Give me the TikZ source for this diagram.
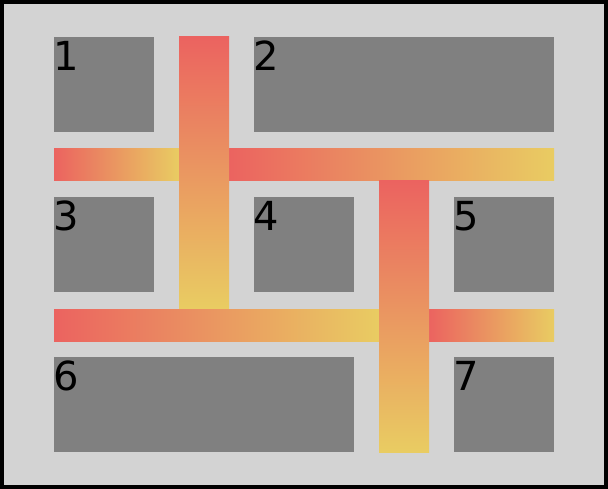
\documentclass[tikz,border=0pt]{standalone}
\usepackage{fontspec}
\setmainfont{DejaVu Sans}
\definecolor{barred}{RGB}{235,99,96}
\definecolor{baryellow}{RGB}{233,204,98}
\definecolor{bggray}{RGB}{211,211,211}
\definecolor{boxgray}{RGB}{128,128,128}
\begin{document}
\begin{tikzpicture}[x=1pt,y=-1pt,
  cell/.style={fill=boxgray},
  hbar/.style={left color=barred,right color=baryellow},
  vbar/.style={top color=barred,bottom color=baryellow},
  lbl/.style={anchor=base west,inner sep=0pt,font=\fontsize{40}{48}\selectfont,text=black}]
\useasboundingbox (0,0) rectangle (608,489);
\fill[black] (0,0) rectangle (608,489);
\fill[bggray] (4,4) rectangle (604,485);
% boxes
\fill[cell] (54,37) rectangle (154,132);
\fill[cell] (254,37) rectangle (554,132);
\fill[cell] (54,197) rectangle (154,292);
\fill[cell] (254,197) rectangle (354,292);
\fill[cell] (454,197) rectangle (554,292);
\fill[cell] (54,357) rectangle (354,452);
\fill[cell] (454,357) rectangle (554,452);
% bars
\shade[hbar] (54,149) rectangle (179,181);
\shade[hbar] (229,149) rectangle (554,181);
\shade[vbar] (179,37) rectangle (229,308);
\shade[hbar] (54,309) rectangle (379,341);
\shade[hbar] (429,309) rectangle (554,341);
\shade[vbar] (379,181) rectangle (429,452);
% labels
\node[lbl] (l1) at (53,70.5) {1};
\node[lbl] (l2) at (253,70.5) {2};
\node[lbl] (l3) at (53,230.5) {3};
\node[lbl] (l4) at (253,230.5) {4};
\node[lbl] (l5) at (453,230.5) {5};
\node[lbl] (l6) at (53,390.5) {6};
\node[lbl] (l7) at (453,390.5) {7};
\end{tikzpicture}
\end{document}
